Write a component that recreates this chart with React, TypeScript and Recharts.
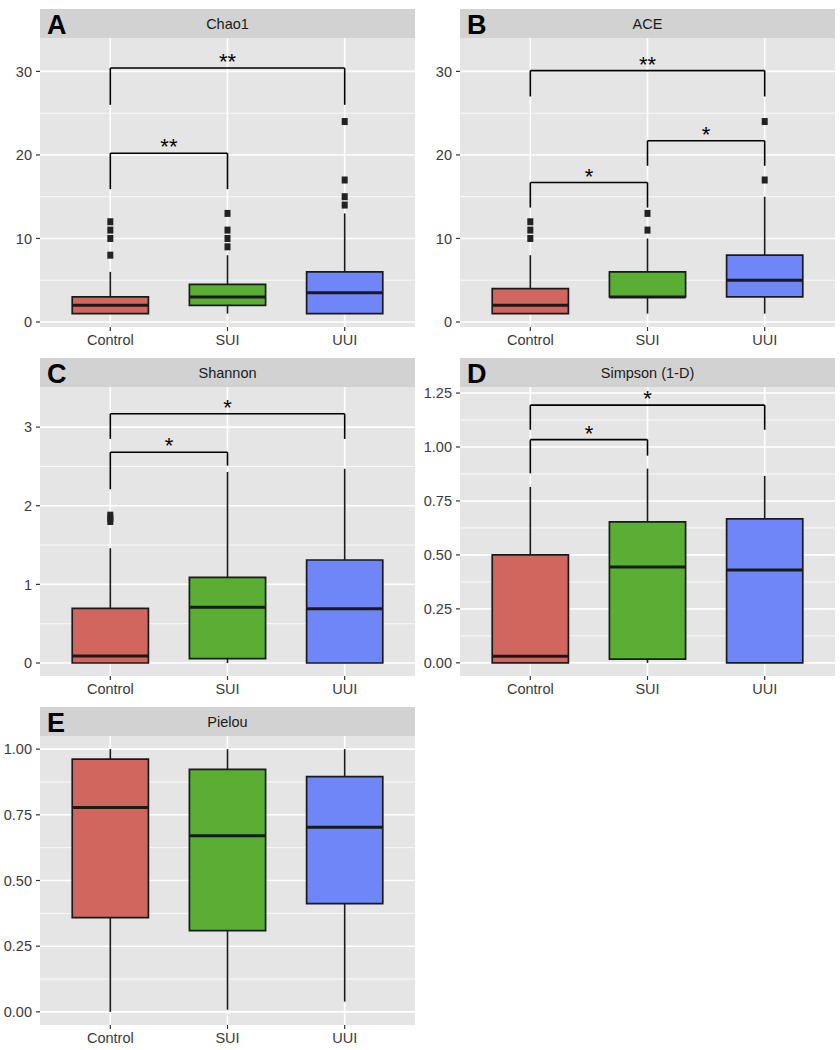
import {
  CartesianGrid,
  ComposedChart,
  ReferenceArea,
  ReferenceDot,
  ReferenceLine,
  Scatter,
  XAxis,
  YAxis,
} from "recharts";

const groups = ["Control", "SUI", "UUI"];

// box stats per group, in groups order
const chao1Boxes = [
  { min: 1, q1: 1, median: 2, q3: 3, max: 6 },
  { min: 1, q1: 2, median: 3, q3: 4.5, max: 8 },
  { min: 1, q1: 1, median: 3.5, q3: 6, max: 13 },
];
const chao1Outliers = [
  [8, 10, 11, 12],
  [9, 10, 11, 13],
  [14, 15, 17, 24],
];
const chao1Brackets = [
  { from: 0, to: 2, y: 30.4, tipL: 26, tipR: 26, label: "**" },
  { from: 0, to: 1, y: 20.2, tipL: 15.9, tipR: 15.9, label: "**" },
];

const aceBoxes = [
  { min: 1, q1: 1, median: 2, q3: 4, max: 8 },
  { min: 1, q1: 3, median: 3, q3: 6, max: 10 },
  { min: 1, q1: 3, median: 5, q3: 8, max: 15 },
];
const aceOutliers = [
  [10, 11, 12],
  [11, 13],
  [17, 24],
];
const aceBrackets = [
  { from: 0, to: 2, y: 30.1, tipL: 27, tipR: 27, label: "**" },
  { from: 1, to: 2, y: 21.7, tipL: 18.7, tipR: 18.7, label: "*" },
  { from: 0, to: 1, y: 16.7, tipL: 13.7, tipR: 13.7, label: "*" },
];

const shannonBoxes = [
  { min: 0, q1: 0, median: 0.09, q3: 0.695, max: 1.46 },
  { min: 0, q1: 0.055, median: 0.71, q3: 1.09, max: 2.43 },
  { min: 0, q1: 0, median: 0.69, q3: 1.31, max: 2.47 },
];
const shannonOutliers = [[1.8, 1.84, 1.88], [], []];
const shannonBrackets = [
  { from: 0, to: 2, y: 3.17, tipL: 2.85, tipR: 2.85, label: "*" },
  { from: 0, to: 1, y: 2.68, tipL: 2.21, tipR: 2.51, label: "*" },
];

const simpsonBoxes = [
  { min: 0, q1: 0, median: 0.03, q3: 0.5, max: 0.815 },
  { min: 0, q1: 0.017, median: 0.444, q3: 0.653, max: 0.9 },
  { min: 0, q1: 0, median: 0.43, q3: 0.667, max: 0.866 },
];
const simpsonBrackets = [
  { from: 0, to: 2, y: 1.194, tipL: 1.08, tipR: 1.08, label: "*" },
  { from: 0, to: 1, y: 1.034, tipL: 0.878, tipR: 0.96, label: "*" },
];

const pielouBoxes = [
  { min: 0, q1: 0.359, median: 0.778, q3: 0.962, max: 1 },
  { min: 0.008, q1: 0.309, median: 0.67, q3: 0.923, max: 1 },
  { min: 0.039, q1: 0.412, median: 0.703, q3: 0.895, max: 1 },
];

const countTicks = [0, 10, 20, 30];
const countMinor = [5, 15, 25];
const shannonTicks = [0, 1, 2, 3];
const shannonMinor = [0.5, 1.5, 2.5];
const simpsonTicks = [0, 0.25, 0.5, 0.75, 1, 1.25];
const simpsonMinor = [0.125, 0.375, 0.625, 0.875, 1.125];
const pielouTicks = [0, 0.25, 0.5, 0.75, 1];
const pielouMinor = [0.125, 0.375, 0.625, 0.875];

const fills = ["#D1665F", "#5AAE33", "#6F86F8"];
const HALF = 0.325;
const INK = "#1A1A1A";
const FONT = "'Liberation Sans', Arial, sans-serif";
const PAD = 10; // room above the plot for the top tick label

type Box = { min: number; q1: number; median: number; q3: number; max: number };
type Bracket = { from: number; to: number; y: number; tipL: number; tipR: number; label: string };

function Panel(props: {
  letter: string;
  title: string;
  left: number;
  top: number;
  boxes: Box[];
  outliers: number[][];
  brackets: Bracket[];
  domain: [number, number];
  ticks: number[];
  minor: number[];
  digits: number;
}) {
  const { letter, title, left, top, boxes, outliers, brackets, domain, ticks, minor, digits } = props;
  const points = outliers.flatMap((vals, i) => vals.map((v) => ({ x: i + 1, y: v })));

  return (
    <>
      <div style={{ position: "absolute", left, top: top - PAD }}>
        <ComposedChart width={420} height={319 + PAD} margin={{ top: PAD, right: 5, bottom: 0, left: 0 }}>
          <CartesianGrid
            fill="#E5E5E5"
            stroke="#FFFFFF"
            strokeWidth={1.6}
            horizontalValues={ticks}
            verticalValues={[1, 2, 3]}
          />
          <CartesianGrid
            stroke="#FFFFFF"
            strokeWidth={0.8}
            horizontalValues={minor}
            vertical={false}
          />
          <XAxis
            type="number"
            dataKey="x"
            domain={[0.4, 3.6]}
            ticks={[1, 2, 3]}
            interval={0}
            allowDataOverflow
            tickFormatter={(v) => groups[v - 1]}
            axisLine={false}
            tickLine={{ stroke: "#333333", strokeWidth: 1.2 }}
            tickSize={4}
            tickMargin={4}
            height={30}
            tick={{ fill: "#3A3A3A", fontSize: 14.5 }}
          />
          <YAxis
            type="number"
            dataKey="y"
            domain={domain}
            ticks={ticks}
            interval={0}
            allowDataOverflow
            tickFormatter={(v) => Number(v).toFixed(digits)}
            axisLine={false}
            tickLine={{ stroke: "#333333", strokeWidth: 1.2 }}
            tickSize={4}
            tickMargin={4}
            width={40}
            tick={{ fill: "#3A3A3A", fontSize: 14.5 }}
          />
          {boxes.map((b, i) => (
            <ReferenceArea
              key={`box${i}`}
              x1={i + 1 - HALF}
              x2={i + 1 + HALF}
              y1={b.q1}
              y2={b.q3}
              fill={fills[i]}
              fillOpacity={1}
              stroke={INK}
              strokeWidth={1.7}
              ifOverflow="visible"
            />
          ))}
          {boxes.map((b, i) =>
            b.max > b.q3 ? (
              <ReferenceLine
                key={`wu${i}`}
                segment={[{ x: i + 1, y: b.q3 }, { x: i + 1, y: b.max }]}
                stroke={INK}
                strokeWidth={1.6}
                ifOverflow="visible"
              />
            ) : null
          )}
          {boxes.map((b, i) =>
            b.min < b.q1 ? (
              <ReferenceLine
                key={`wl${i}`}
                segment={[{ x: i + 1, y: b.min }, { x: i + 1, y: b.q1 }]}
                stroke={INK}
                strokeWidth={1.6}
                ifOverflow="visible"
              />
            ) : null
          )}
          {boxes.map((b, i) => (
            <ReferenceLine
              key={`med${i}`}
              segment={[{ x: i + 1 - HALF, y: b.median }, { x: i + 1 + HALF, y: b.median }]}
              stroke={INK}
              strokeWidth={3}
              ifOverflow="visible"
            />
          ))}
          {brackets.map((s, i) => (
            <ReferenceLine
              key={`bh${i}`}
              segment={[{ x: s.from + 1, y: s.y }, { x: s.to + 1, y: s.y }]}
              stroke="#000"
              strokeWidth={1.6}
              ifOverflow="visible"
            />
          ))}
          {brackets.map((s, i) => (
            <ReferenceLine
              key={`bl${i}`}
              segment={[{ x: s.from + 1, y: s.tipL }, { x: s.from + 1, y: s.y }]}
              stroke="#000"
              strokeWidth={1.6}
              ifOverflow="visible"
            />
          ))}
          {brackets.map((s, i) => (
            <ReferenceLine
              key={`br${i}`}
              segment={[{ x: s.to + 1, y: s.tipR }, { x: s.to + 1, y: s.y }]}
              stroke="#000"
              strokeWidth={1.6}
              ifOverflow="visible"
            />
          ))}
          <Scatter
            data={points}
            isAnimationActive={false}
            shape={(p: any) => (
              <rect x={p.cx - 3} y={p.cy - 3.5} width={6} height={7} fill="#222222" />
            )}
          />
          {brackets.map((s, i) => (
            <ReferenceDot
              key={`lab${i}`}
              x={(s.from + s.to) / 2 + 1}
              y={s.y}
              r={1}
              ifOverflow="visible"
              shape={(p: any) => (
                <text x={p.cx} y={p.cy + 1} textAnchor="middle" fontSize={22} fill="#000">
                  {s.label}
                </text>
              )}
            />
          ))}
        </ComposedChart>
      </div>
      <svg
        width={375}
        height={29}
        style={{ position: "absolute", left: left + 40, top: top - 29 }}
      >
        <rect x={0} y={0} width={375} height={29} fill="#D2D2D2" />
        <text x={187.5} y={19.5} textAnchor="middle" fontSize={14.5} fill="#1A1A1A">
          {title}
        </text>
        <text x={7} y={24.5} fontSize={27} fontWeight="bold" fill="#000">
          {letter}
        </text>
      </svg>
    </>
  );
}

export default function App() {
  return (
    <div
      style={{
        position: "absolute",
        left: 0,
        top: 0,
        width: 840,
        height: 1050,
        background: "#FFFFFF",
        fontFamily: FONT,
      }}
    >
      <Panel
        letter="A"
        title="Chao1"
        left={0}
        top={38}
        boxes={chao1Boxes}
        outliers={chao1Outliers}
        brackets={chao1Brackets}
        domain={[-0.6, 34]}
        ticks={countTicks}
        minor={countMinor}
        digits={0}
      />
      <Panel
        letter="B"
        title="ACE"
        left={420}
        top={38}
        boxes={aceBoxes}
        outliers={aceOutliers}
        brackets={aceBrackets}
        domain={[-0.6, 34]}
        ticks={countTicks}
        minor={countMinor}
        digits={0}
      />
      <Panel
        letter="C"
        title="Shannon"
        left={0}
        top={387}
        boxes={shannonBoxes}
        outliers={shannonOutliers}
        brackets={shannonBrackets}
        domain={[-0.165, 3.51]}
        ticks={shannonTicks}
        minor={shannonMinor}
        digits={0}
      />
      <Panel
        letter="D"
        title="Simpson (1-D)"
        left={420}
        top={387}
        boxes={simpsonBoxes}
        outliers={[[], [], []]}
        brackets={simpsonBrackets}
        domain={[-0.061, 1.278]}
        ticks={simpsonTicks}
        minor={simpsonMinor}
        digits={2}
      />
      <Panel
        letter="E"
        title="Pielou"
        left={0}
        top={736}
        boxes={pielouBoxes}
        outliers={[[], [], []]}
        brackets={[]}
        domain={[-0.05, 1.05]}
        ticks={pielouTicks}
        minor={pielouMinor}
        digits={2}
      />
    </div>
  );
}
